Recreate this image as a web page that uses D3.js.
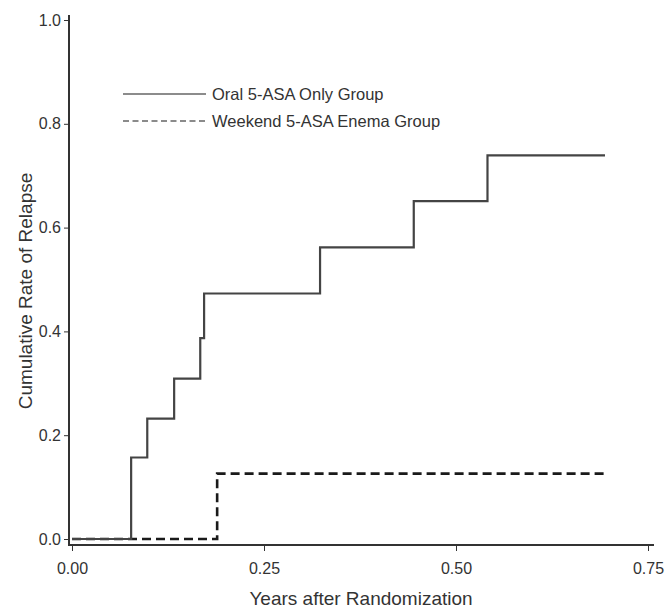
<!DOCTYPE html>
<meta charset="utf-8">
<html>
<script src="https://d3js.org/d3.v7.min.js"></script>
<style>
  body { margin: 0; background: #fff; }
  text { font-family: "Liberation Sans", Arial, sans-serif; }
</style>
<div id="km"></div>
<script>

var oralTimes = [0, 0.077, 0.098, 0.133, 0.167, 0.172, 0.323, 0.445, 0.541, 0.694];
var oralRates = [0, 0.157, 0.232, 0.309, 0.387, 0.473, 0.562, 0.651, 0.739, 0.739];
var enemaTimes = [0, 0.189, 0.693];
var enemaRates = [0, 0.126, 0.126];
var xTicks = [0, 0.25, 0.5, 0.75];
var yTicks = [0, 0.2, 0.4, 0.6, 0.8, 1.0];
var groups = ["Oral 5-ASA Only Group", "Weekend 5-ASA Enema Group"];

var width = 666,
    height = 609;

var svg = d3.select("#km")
  .append("svg")
    .attr("width", width)
    .attr("height", height);

var x = d3.scaleLinear().domain([0, 0.75]).range([72, 648]);
var y = d3.scaleLinear().domain([0, 1]).range([539, 20]);

var axisColor = "#333";

// axis lines (base-R style L)
svg.append("line")
    .attr("x1", x(0) - 3).attr("x2", x(0.75) + 6)
    .attr("y1", 545).attr("y2", 545)
    .attr("stroke", axisColor).attr("stroke-width", 2);
svg.append("line")
    .attr("x1", 69).attr("x2", 69)
    .attr("y1", y(1) - 5).attr("y2", 546)
    .attr("stroke", axisColor).attr("stroke-width", 2);

// x axis ticks + labels
var xAxis = svg.append("g")
    .attr("transform", "translate(0,545)")
    .call(d3.axisBottom(x).tickValues(xTicks).tickFormat(d3.format(".2f")).tickSize(6).tickPadding(12));
xAxis.select(".domain").remove();
xAxis.selectAll("line").attr("stroke", axisColor).attr("stroke-width", 1);
xAxis.selectAll("text").attr("font-size", "16px").attr("fill", "#333")
    .attr("font-family", "Liberation Sans, Arial, sans-serif");

// y axis ticks + labels
var yAxis = svg.append("g")
    .attr("transform", "translate(69,0)")
    .call(d3.axisLeft(y).tickValues(yTicks).tickFormat(d3.format(".1f")).tickSize(5).tickPadding(3));
yAxis.select(".domain").remove();
yAxis.selectAll("line").attr("stroke", axisColor).attr("stroke-width", 1);
yAxis.selectAll("text").attr("font-size", "16px").attr("fill", "#333")
    .attr("font-family", "Liberation Sans, Arial, sans-serif");

// axis titles
svg.append("text")
    .attr("x", 361)
    .attr("y", 605)
    .attr("text-anchor", "middle")
    .attr("font-size", "19px")
    .attr("fill", "#333")
    .text("Years after Randomization");

svg.append("text")
    .attr("transform", "translate(32,291) rotate(-90)")
    .attr("text-anchor", "middle")
    .attr("font-size", "19px")
    .attr("fill", "#333")
    .text("Cumulative Rate of Relapse");

// step curves
var step = d3.line()
    .x(function(d) { return x(d[0]); })
    .y(function(d) { return y(d[1]); })
    .curve(d3.curveStepAfter);

var oral = oralTimes.map(function(t, i) { return [t, oralRates[i]]; });
var enema = enemaTimes.map(function(t, i) { return [t, enemaRates[i]]; });

svg.append("path")
    .datum(enema)
    .attr("d", step)
    .attr("fill", "none")
    .attr("stroke", "#1a1a1a")
    .attr("stroke-width", 2.6)
    .attr("stroke-dasharray", "9,5");

svg.append("path")
    .datum(oral)
    .attr("d", step)
    .attr("fill", "none")
    .attr("stroke", "#444")
    .attr("stroke-width", 2.2);

// legend
var legend = svg.selectAll(".legend")
    .data(groups)
    .enter().append("g")
    .attr("class", "legend")
    .attr("transform", function(d, i) { return "translate(0," + (94 + i * 27) + ")"; });

legend.append("line")
    .attr("x1", 123).attr("x2", 206)
    .attr("y1", 0).attr("y2", 0)
    .attr("stroke", "#666")
    .attr("stroke-width", 1.3)
    .attr("stroke-dasharray", function(d, i) { return i == 1 ? "6,3.5" : null; });

legend.append("text")
    .attr("x", 212)
    .attr("y", 0)
    .attr("dy", ".35em")
    .attr("font-size", "16.5px")
    .attr("fill", "#333")
    .text(function(d) { return d; });

</script>
</html>
